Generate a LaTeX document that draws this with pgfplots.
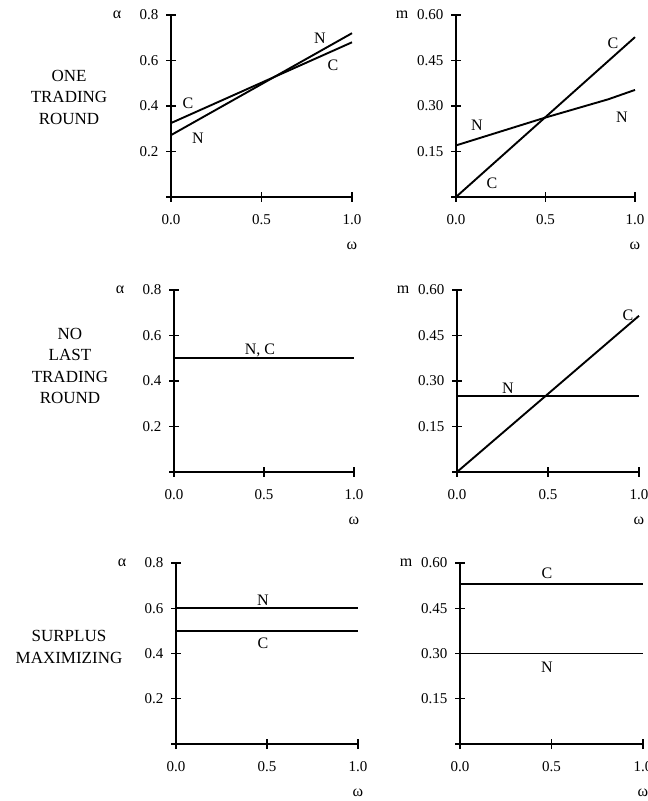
\documentclass[border=0pt]{standalone}
\usepackage{fontspec}
\setmainfont{Liberation Serif}
\usepackage{pgfplots}
\pgfplotsset{compat=1.18}
\pgfplotsset{
  panel/.style={
    scale only axis, enlargelimits=false, clip=false,
    axis x line*=bottom, axis y line*=left,
    axis line style={line width=1.6pt,-},
    xmin=0, xmax=1, ymin=0,
    xtick={0,0.5,1}, xticklabels={0.0,0.5,1.0},
    tick align=center, major tick length=10pt,
    tick style={line width=1.2pt,black},
    /pgf/number format/assume math mode=true,
    ticklabel style={font=\fontsize{15}{17}\selectfont},
    xticklabel style={yshift=-9pt},
    yticklabel style={xshift=-4pt},
  },
  leftp/.style={panel, ymax=0.8, ytick={0,0.2,0.4,0.6,0.8}, yticklabels={,0.2,0.4,0.6,0.8}},
  rightp/.style={panel, ymax=0.6, ytick={0,0.15,0.3,0.45,0.6}, yticklabels={,0.15,0.30,0.45,0.60}},
  crv/.style={black, line width=1.9pt, no markers},
  hcrv/.style={black, line width=1.6pt, no markers},
}
\newcommand{\lab}{\fontsize{16}{18}\selectfont}
\newcommand{\ylab}[1]{\node[font=\fontsize{16}{18}\selectfont] at ([xshift=-54pt]rel axis cs:0,1) {#1};}
\newcommand{\wlab}{\node[font=\fontsize{16}{18}\selectfont] at ([yshift=-49pt]rel axis cs:1,0) {ω};}
\begin{document}
\begin{tikzpicture}
\useasboundingbox (0pt,0pt) rectangle (648pt,801pt);
% row labels
\node[align=center, font=\fontsize{17}{21.5}\selectfont] at (69pt,704pt) {ONE\\TRADING\\ROUND};
\node[align=center, font=\fontsize{17}{21.5}\selectfont] at (70pt,435pt) {NO\\LAST\\TRADING\\ROUND};
\node[align=center, font=\fontsize{17}{21.5}\selectfont] at (69pt,154pt) {SURPLUS\\MAXIMIZING};

% Row 1 left
\begin{axis}[leftp, at={(171pt,604pt)}, anchor=south west, width=181pt, height=182pt]
\addplot[crv] coordinates {(0,0.272) (1,0.72)};
\addplot[crv] coordinates {(0,0.325) (1,0.68)};
\ylab{α}\wlab
\node[font=\lab] at (axis cs:0.094,0.413) {C};
\node[font=\lab] at (axis cs:0.149,0.259) {N};
\node[font=\lab] at (axis cs:0.823,0.699) {N};
\node[font=\lab] at (axis cs:0.895,0.58) {C};
\end{axis}

% Row 1 right
\begin{axis}[rightp, at={(456pt,604pt)}, anchor=south west, width=179pt, height=182pt]
\addplot[crv] coordinates {(0,0.17) (0.5,0.262) (0.85,0.322) (1,0.353)};
\addplot[crv] coordinates {(0,0) (1,0.527)};
\ylab{m}\wlab
\node[font=\lab] at (axis cs:0.877,0.508) {C};
\node[font=\lab] at (axis cs:0.117,0.237) {N};
\node[font=\lab] at (axis cs:0.927,0.264) {N};
\node[font=\lab] at (axis cs:0.201,0.046) {C};
\end{axis}

% Row 2 left
\begin{axis}[leftp, at={(174pt,329pt)}, anchor=south west, width=180pt, height=182pt]
\addplot[hcrv] coordinates {(0,0.5) (1,0.5)};
\ylab{α}\wlab
\node[font=\lab] at (axis cs:0.478,0.536) {N, C};
\end{axis}

% Row 2 right
\begin{axis}[rightp, at={(457pt,329pt)}, anchor=south west, width=182pt, height=182pt]
\addplot[hcrv] coordinates {(0,0.25) (1,0.25)};
\addplot[crv] coordinates {(0,0) (1,0.515)};
\ylab{m}\wlab
\node[font=\lab] at (axis cs:0.28,0.277) {N};
\node[font=\lab] at (axis cs:0.94,0.518) {C};
\end{axis}

% Row 3 left
\begin{axis}[leftp, at={(176pt,57pt)}, anchor=south west, width=182pt, height=181pt]
\addplot[hcrv] coordinates {(0,0.6) (1,0.6)};
\addplot[hcrv] coordinates {(0,0.5) (1,0.5)};
\ylab{α}\wlab
\node[font=\lab] at (axis cs:0.478,0.636) {N};
\node[font=\lab] at (axis cs:0.478,0.446) {C};
\end{axis}

% Row 3 right
\begin{axis}[rightp, at={(460pt,57pt)}, anchor=south west, width=183pt, height=181pt]
\addplot[hcrv] coordinates {(0,0.53) (1,0.53)};
\addplot[hcrv] coordinates {(0,0.30) (1,0.30)};
\ylab{m}\wlab
\node[font=\lab] at (axis cs:0.475,0.567) {C};
\node[font=\lab] at (axis cs:0.475,0.255) {N};
\end{axis}
\end{tikzpicture}
\end{document}
